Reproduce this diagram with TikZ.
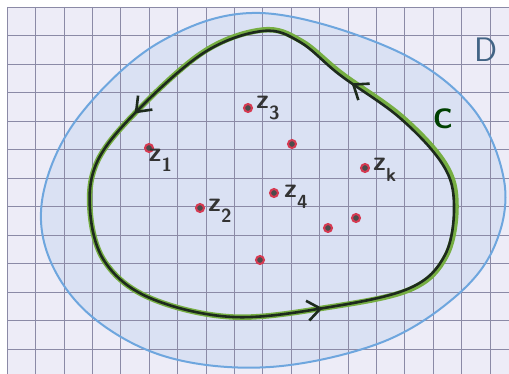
\documentclass[tikz,border=0pt]{standalone}
\usepackage{tikz}
\usetikzlibrary{arrows.meta, positioning, decorations.markings}
\definecolor{paper}{HTML}{EDECF7}
\definecolor{gridline}{HTML}{8B8AA6}
\definecolor{pencilblue}{HTML}{6EA6DE}
\definecolor{regionblue}{HTML}{C9D8F1}
\definecolor{pencilgreen}{HTML}{76AE42}
\definecolor{inkblack}{HTML}{1D2A1D}
\definecolor{polered}{HTML}{D63A52}
\newcommand{\zsub}[1]{z\raisebox{-0.4em}{\fontsize{19}{19}\selectfont #1}}

\begin{document}
\begin{tikzpicture}[x=1pt, y=-1pt,
  pole/.style={circle, draw=polered, fill=black!70, line width=2pt,
               minimum size=8pt, inner sep=0pt},
  zlab/.style={font=\fontsize{27}{27}\selectfont\sffamily\bfseries,
               text=black!80, inner sep=0pt},
  contour/.style={line width=2.6pt, line join=round},
  flow/.style={postaction={decorate}, decoration={markings,
      mark=at position 0.092 with {\arrow{Straight Barb[length=13pt,width=20pt]}},
      mark=at position 0.485 with {\arrow{Straight Barb[length=13pt,width=20pt]}},
      mark=at position 0.835 with {\arrow{Straight Barb[length=13pt,width=20pt]}}}},
]
\useasboundingbox (0,0) rectangle (509,374);
\fill[white] (0,0) rectangle (509,374);
\fill[paper] (7,7) rectangle (509,374);

%% Region D (fill)
\fill[regionblue, fill opacity=0.5] plot[smooth cycle, tension=0.6] coordinates {
  (260,13) (390,48) (470,105) (504,180) (495,245) (455,297) (380,343)
  (270,367) (167,357) (90,315) (48,255) (44,190) (80,115) (160,42)};

%% Squared paper
\foreach \i in {0,...,17}
  \draw[gridline, line width=0.7pt] (7.1+28.4*\i,7) -- (7.1+28.4*\i,374);
\foreach \j in {0,...,12}
  \draw[gridline, line width=0.7pt] (7,7+28.5*\j) -- (509,7+28.5*\j);

%% Region D (outline)
\draw[pencilblue, line width=2pt] plot[smooth cycle, tension=0.6] coordinates {
  (260,13) (390,48) (470,105) (504,180) (495,245) (455,297) (380,343)
  (270,367) (167,357) (90,315) (48,255) (44,190) (80,115) (160,42)};
\node[font=\fontsize{34}{34}\selectfont\sffamily, text=pencilblue!60!black] (dname) at (486,50) {D};

%% Contour C, counterclockwise
\draw[pencilgreen, line width=5.5pt] plot[smooth cycle, tension=0.6] coordinates {
  (263,30) (205,51) (140,108) (98,160) (90,210) (105,262) (150,298)
  (233,317) (330,307) (411,289) (446,256) (456,205) (445,164) (402,117)
  (342,74) (301,41)};
\draw[inkblack, contour, flow] plot[smooth cycle, tension=0.6] coordinates {
  (263,31) (205,52) (140,108) (98,160) (90,210) (105,262) (150,298)
  (233,317) (330,307) (410,288) (445,255) (454,205) (443,165) (400,118)
  (340,75) (300,42)};
\node[font=\fontsize{28}{28}\selectfont\sffamily\bfseries, text=green!25!black] (cname) at (443,119) {C};

%% Singular points
\node[pole] (z1) at (149,148) {};
\node[pole] (z2) at (200,208) {};
\node[pole] (z3) at (248,108) {};
\node[pole] (z4) at (274,193) {};
\node[pole] (zk) at (365,168) {};
\foreach \p/\q [count=\n] in {292/144, 328/228, 356/218, 260/260}
  \node[pole] (p\n) at (\p,\q) {};

\node[zlab, below right=-3pt and -4pt of z1] {\zsub{1}};
\node[zlab, right=3pt of z2, yshift=-3pt] {\zsub{2}};
\node[zlab, right=3pt of z3, yshift=0pt] {\zsub{3}};
\node[zlab, right=5pt of z4, yshift=-4pt] {\zsub{4}};
\node[zlab, right=3pt of zk, yshift=-2pt] {\zsub{k}};
\end{tikzpicture}
\end{document}
